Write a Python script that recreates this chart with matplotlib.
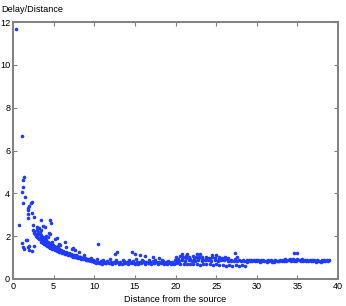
import matplotlib
matplotlib.use("Agg")
import matplotlib.pyplot as plt

plt.rcParams['font.family'] = ['Liberation Sans', 'DejaVu Sans']

# near-source points (d < ~10.5)
near_d = [0.33, 1.05, 0.74, 1.35, 1.27, 1.27, 1.07, 1.48, 1.27, 1.80, 1.87, 1.80, 2.17, 2.30, 2.00,
          2.35, 1.90, 2.58, 2.40, 1.60, 1.07, 1.27, 1.30, 2.00, 2.30, 2.60,
          2.50, 2.60, 2.70, 2.80, 2.90, 3.00, 3.10, 3.20, 3.30, 3.40, 3.50, 3.60, 3.70, 3.80, 3.90,
          4.00, 4.20, 4.40, 4.60, 4.80, 5.00, 5.20, 5.40, 5.60, 5.80, 6.00, 6.20, 6.40, 6.60, 6.80,
          7.00, 7.20, 7.40, 7.60, 7.80, 8.00, 8.20, 8.40, 8.60, 8.80, 9.00, 9.20, 9.40, 9.60, 9.80, 10.00,
          2.90, 3.10, 3.30, 3.50, 3.70, 3.90, 4.10, 4.30, 4.50, 4.70, 4.90, 5.10, 5.30, 5.50, 5.70,
          5.90, 6.10, 6.30, 6.50, 6.70, 6.90, 7.10, 7.30, 7.50, 7.70, 7.90, 8.10, 8.30, 8.50, 8.70,
          8.90, 9.10, 9.30, 9.50, 9.70, 9.90,
          3.00, 3.40, 3.80, 4.20, 4.60, 5.00, 5.40, 5.80, 6.20, 6.60, 7.00, 7.40, 7.80, 8.20, 8.60,
          9.00, 9.40, 9.80,
          2.90, 3.00, 3.50, 3.70, 3.95, 4.50, 4.70, 4.47, 4.60, 3.50, 3.20, 3.30, 5.40, 5.20, 6.40,
          5.80, 5.60, 4.00, 4.30, 7.40, 7.60, 8.10, 8.75, 9.60, 6.50, 7.30, 10.50, 4.80, 5.50,
          1.68, 1.80, 2.00]
near_v = [11.67, 6.68, 2.51, 4.75, 4.60, 4.28, 4.08, 3.85, 3.57, 3.22, 3.05, 3.30, 3.57, 3.60, 3.40,
          3.10, 2.85, 2.90, 2.54, 1.82, 1.67, 1.50, 1.40, 1.54, 1.32, 1.54,
          2.30, 2.15, 2.10, 2.00, 2.05, 1.95, 1.90, 1.85, 1.88, 1.80, 1.75, 1.72, 1.70, 1.65, 1.62,
          1.60, 1.55, 1.50, 1.45, 1.42, 1.38, 1.35, 1.30, 1.28, 1.25, 1.22, 1.20, 1.17, 1.15, 1.12,
          1.10, 1.07, 1.05, 1.03, 1.01, 0.99, 0.97, 0.95, 0.93, 0.92, 0.90, 0.88, 0.87, 0.85, 0.83, 0.81,
          2.30, 2.20, 2.10, 2.05, 1.95, 1.90, 1.80, 1.75, 1.70, 1.62, 1.58, 1.52, 1.48, 1.43, 1.40,
          1.35, 1.32, 1.28, 1.25, 1.22, 1.20, 1.17, 1.14, 1.12, 1.10, 1.08, 1.05, 1.03, 1.00, 0.98,
          0.96, 0.95, 0.93, 0.90, 0.88, 0.86,
          2.05, 1.95, 1.80, 1.65, 1.55, 1.48, 1.40, 1.32, 1.26, 1.20, 1.15, 1.10, 1.05, 1.01, 0.97,
          0.93, 0.90, 0.87,
          2.45, 2.10, 2.76, 2.48, 2.45, 2.76, 2.60, 2.13, 2.10, 2.30, 2.40, 2.20, 1.90, 1.85, 1.74,
          1.60, 1.65, 2.00, 1.95, 1.43, 1.34, 1.28, 1.12, 1.00, 1.50, 1.38, 1.63, 1.75, 1.55,
          1.82, 1.50, 1.35]
# extra intermediate row along the curve
curve_d = [2.6, 2.8, 3.0, 3.2, 3.4, 3.6, 3.8, 4.0, 4.3, 4.6, 4.9, 5.2, 5.5, 5.8, 6.1, 6.4, 6.7, 7.0,
           7.3, 7.6, 7.9, 8.2, 8.5, 8.8, 9.1, 9.4, 9.7, 10.0]
curve_v = [2.25, 2.12, 2.00, 1.92, 1.86, 1.78, 1.72, 1.66, 1.58, 1.50, 1.44, 1.39, 1.34, 1.29, 1.24,
           1.20, 1.16, 1.12, 1.09, 1.06, 1.03, 0.99, 0.96, 0.93, 0.91, 0.88, 0.86, 0.85]

# far band, main row (d 10-29)
bandA_d = [10.0, 10.4, 10.8, 11.2, 11.6, 12.0, 12.4, 12.8, 13.2, 13.6, 14.0, 14.4, 14.8, 15.2, 15.6, 16.0,
           16.4, 16.8, 17.2, 17.6, 18.0, 18.4, 18.8, 19.2, 19.6, 20.0, 20.4, 20.8, 21.2, 21.6, 22.0, 22.4,
           22.8, 23.2, 23.6, 24.0, 24.4, 24.8, 25.2, 25.6, 26.0, 26.4, 26.8, 27.2, 27.6, 28.0, 28.4, 28.8]
bandA_v = [0.84, 0.80, 0.82, 0.79, 0.83, 0.80, 0.78, 0.81, 0.79, 0.82, 0.78, 0.80, 0.83, 0.79, 0.81, 0.84,
           0.80, 0.78, 0.82, 0.80, 0.79, 0.83, 0.81, 0.78, 0.80, 0.86, 0.84, 0.88, 0.85, 0.87, 0.84, 0.86,
           0.88, 0.85, 0.87, 0.90, 0.86, 0.88, 0.85, 0.87, 0.89, 0.84, 0.86, 0.83, 0.85, 0.82, 0.84, 0.81]
# lower row (d 10-29)
bandB_d = [10.2, 10.6, 11.0, 11.4, 11.8, 12.2, 12.6, 13.0, 13.4, 13.8, 14.2, 14.6, 15.0, 15.4, 15.8, 16.2,
           16.6, 17.0, 17.4, 17.8, 18.2, 18.6, 19.0, 19.4, 19.8, 20.2, 20.6, 21.0, 21.4, 21.8, 22.2, 22.6,
           23.0, 23.4, 23.8, 24.2, 24.6, 25.0, 25.4, 25.8, 26.2, 26.6, 27.0, 27.4, 27.8, 28.2, 28.6]
bandB_v = [0.76, 0.74, 0.72, 0.75, 0.73, 0.71, 0.74, 0.72, 0.70, 0.73, 0.71, 0.74, 0.72, 0.70, 0.73, 0.71,
           0.74, 0.72, 0.75, 0.70, 0.73, 0.71, 0.68, 0.72, 0.70, 0.73, 0.69, 0.71, 0.70, 0.68, 0.72, 0.69,
           0.67, 0.70, 0.68, 0.71, 0.66, 0.69, 0.64, 0.67, 0.63, 0.66, 0.62, 0.65, 0.63, 0.66, 0.62]
# upper edge d 10-20
bandG_d = [10.3, 11.1, 11.9, 12.7, 13.5, 14.3, 15.1, 15.9, 16.7, 17.5, 18.3, 19.1, 19.9]
bandG_v = [0.92, 0.90, 0.93, 0.89, 0.91, 0.88, 0.92, 0.90, 0.87, 0.91, 0.89, 0.86, 0.90]
# middle row d 10-20
bandH_d = [10.1, 10.7, 11.3, 11.9, 12.5, 13.1, 13.7, 14.3, 14.9, 15.5, 16.1, 16.7, 17.3, 17.9, 18.5, 19.1, 19.7]
bandH_v = [0.78, 0.76, 0.77, 0.75, 0.78, 0.76, 0.74, 0.77, 0.75, 0.76, 0.78, 0.75, 0.77, 0.74, 0.76, 0.75, 0.77]
# sub-bands d 20-29
bandE_d = [20.1, 20.5, 20.9, 21.3, 21.7, 22.1, 22.5, 22.9, 23.3, 23.7, 24.1, 24.5, 24.9, 25.3, 25.7, 26.1, 26.5]
bandE_v = [1.05, 1.08, 1.04, 1.07, 1.03, 1.06, 1.02, 1.05, 1.01, 1.04, 1.00, 1.03, 0.99, 1.02, 0.98, 1.01, 0.97]
bandF_d = [20.3, 20.8, 21.3, 21.8, 22.3, 22.8, 23.3, 23.8, 24.3, 24.8, 25.3, 25.8, 26.3, 26.8, 27.3, 27.8, 28.3, 28.8]
bandF_v = [0.95, 0.93, 0.96, 0.94, 0.92, 0.95, 0.93, 0.96, 0.94, 0.97, 0.93, 0.95, 0.92, 0.90, 0.93, 0.91, 0.89, 0.88]
# d 29-39
bandC_d = [29.0, 29.3, 29.6, 29.9, 30.2, 30.5, 30.8, 31.1, 31.4, 31.7, 32.0, 32.3, 32.6, 32.9, 33.2, 33.5, 33.8,
           34.1, 34.4, 34.7, 35.0, 35.3, 35.6, 35.9, 36.2, 36.5, 36.8, 37.1, 37.4, 37.7, 38.0, 38.3, 38.6, 38.9]
bandC_v = [0.90, 0.88, 0.91, 0.89, 0.87, 0.90, 0.88, 0.86, 0.89, 0.87, 0.85, 0.88, 0.86, 0.89, 0.91, 0.93, 0.90,
           0.92, 0.94, 0.91, 0.93, 0.90, 0.92, 0.89, 0.91, 0.88, 0.90, 0.87, 0.89, 0.86, 0.88, 0.90, 0.87, 0.91]
bandD_d = [29.15, 29.45, 29.75, 30.05, 30.35, 30.65, 30.95, 31.25, 31.55, 31.85, 32.15, 32.45, 32.75, 33.05,
           33.35, 33.65, 33.95, 34.25, 34.55, 34.85, 35.15, 35.45, 35.75, 36.05, 36.35, 36.65, 36.95, 37.25,
           37.55, 37.85, 38.15, 38.45, 38.75]
bandD_v = [0.84, 0.82, 0.85, 0.83, 0.81, 0.84, 0.82, 0.80, 0.83, 0.81, 0.80, 0.82, 0.84, 0.83, 0.86, 0.85,
           0.87, 0.84, 0.86, 0.85, 0.88, 0.84, 0.86, 0.83, 0.85, 0.82, 0.84, 0.81, 0.83, 0.80, 0.82, 0.84, 0.83]
# scattered far outliers
out_d = [12.6, 12.76, 14.6, 15.0, 15.6, 16.3, 17.2, 18.0, 20.8, 21.4, 22.6, 23.0, 27.3, 27.6, 34.6, 35.0, 24.5, 25.0]
out_v = [1.16, 1.28, 1.25, 1.18, 1.12, 1.08, 1.03, 1.00, 1.17, 1.17, 1.17, 1.17, 1.20, 1.05, 1.22, 1.22, 1.12, 1.10]

x_ticks = [0, 5, 10, 15, 20, 25, 30, 35, 40]
y_ticks = [0, 2, 4, 6, 8, 10, 12]

fig = plt.figure(figsize=(3.46, 3.06), dpi=100)
ax = fig.add_axes([13/346, 27/306, 325/346, 257/306])

color = '#1f3bff'
groups = [(near_d, near_v), (curve_d, curve_v), (bandA_d, bandA_v), (bandB_d, bandB_v),
          (bandG_d, bandG_v), (bandH_d, bandH_v), (bandE_d, bandE_v), (bandF_d, bandF_v),
          (bandC_d, bandC_v), (bandD_d, bandD_v), (out_d, out_v)]
for d, v in groups:
    ax.plot(d, v, linestyle='none', marker='o', markersize=2.6, markeredgewidth=0,
            color=color)

ax.set_xlim(0, 40)
ax.set_ylim(0, 12)
ax.set_xticks(x_ticks)
ax.set_yticks(y_ticks)
for s in ax.spines.values():
    s.set_color('#808080')
    s.set_linewidth(1.4)
ax.tick_params(direction='in', length=3, width=0.8, color='#808080', labelsize=6.6,
               labelcolor='black', top=True, right=True, pad=2)
ax.set_xlabel('Distance from the source', fontsize=6.6, labelpad=3)
fig.text(1/346, 1 - 10/306, 'Delay/Distance', fontsize=6.6, va='center', ha='left')

fig.savefig('out.png', dpi=100)
